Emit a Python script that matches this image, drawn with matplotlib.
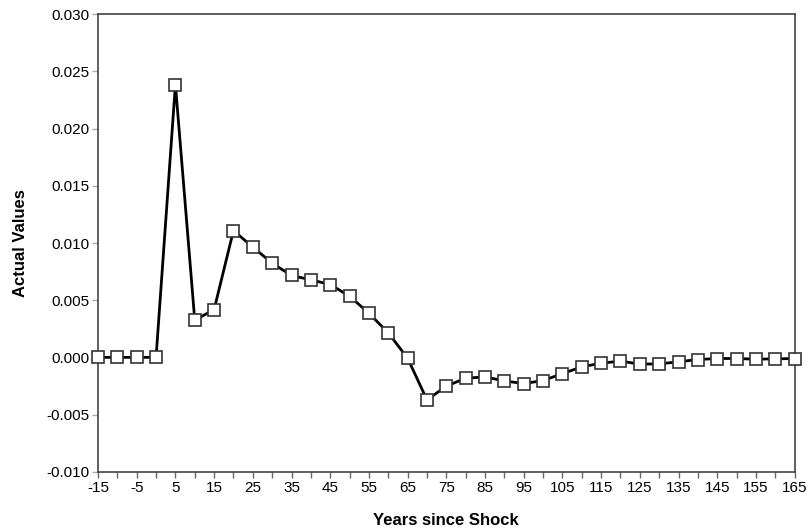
import matplotlib
matplotlib.use("Agg")
import matplotlib.pyplot as plt
import numpy as np

plt.rcParams['font.family'] = ['Liberation Sans', 'DejaVu Sans']
plt.rcParams['axes.unicode_minus'] = False

# years since shock, every 5 years
years = list(range(-15, 170, 5))
values = [0.0, 0.0, 0.0, 0.0,
          0.02386, 0.00325, 0.00418, 0.01109, 0.00964, 0.00824,
          0.00716, 0.00678, 0.00637, 0.00535, 0.00386, 0.00214,
          -0.00007, -0.00372, -0.00252, -0.00182, -0.00171, -0.00206,
          -0.00229, -0.00203, -0.00142, -0.00083, -0.00051, -0.00033,
          -0.00059, -0.00057, -0.00039, -0.00019, -0.0001, -0.0001,
          -0.00016, -0.00013, -0.0001]

x_labels = list(range(-15, 170, 10))
y_ticks = np.arange(-0.010, 0.0301, 0.005)

fig = plt.figure(figsize=(8.1, 5.28), dpi=100)
ax = fig.add_axes([0.121, 0.1066, 0.860, 0.8663])

ax.plot(years, values, color='black', lw=2.0, marker='s', ms=9,
        mfc='white', mec='#333333', mew=1.2, zorder=3, clip_on=False)

ax.set_xlim(-15, 165)
ax.set_ylim(-0.010, 0.030)
ax.set_xticks(x_labels)
ax.set_xticks(years, minor=True)
ax.set_yticks(y_ticks)
ax.set_yticklabels(['%.3f' % v for v in y_ticks])

for s in ax.spines.values():
    s.set_color('#444444')
    s.set_linewidth(1.2)

ax.tick_params(axis='x', which='both', direction='out', length=4, width=1,
               color='#666666', labelsize=11, pad=3)
ax.tick_params(axis='y', direction='out', length=4, width=1,
               color='#aaaaaa', labelsize=11, pad=2)

ax.set_xlabel('Years since Shock', fontsize=12, fontweight='bold', labelpad=13)
ax.set_ylabel('Actual Values', fontsize=12, fontweight='bold', labelpad=13)

fig.savefig('out.png', dpi=100)
